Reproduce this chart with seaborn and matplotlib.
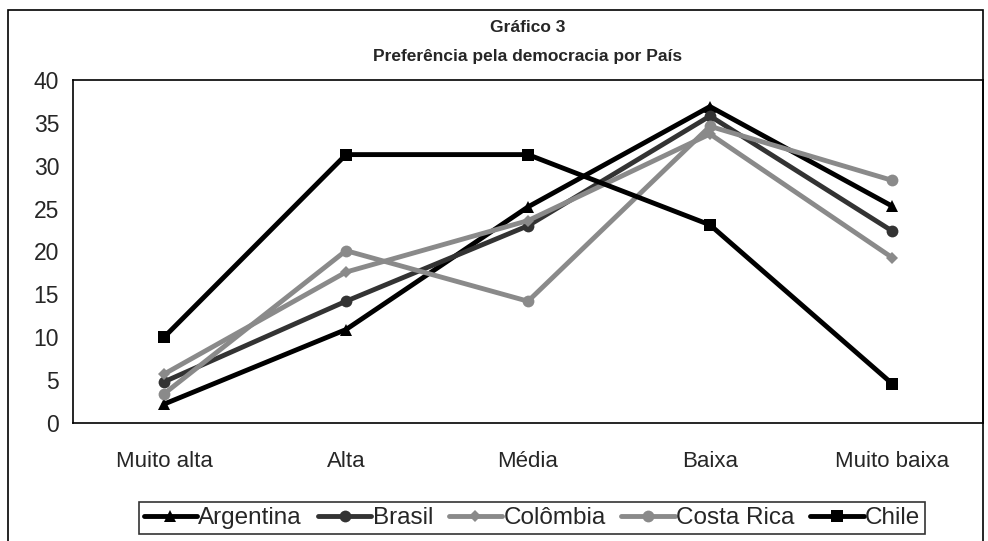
import matplotlib
matplotlib.use("Agg")
import matplotlib.pyplot as plt
from matplotlib.patches import Rectangle
import seaborn as sns
import pandas as pd

categorias = ["Muito alta", "Alta", "Média", "Baixa", "Muito baixa"]
argentina = [2.2, 10.9, 25.2, 36.9, 25.3]
brasil = [4.8, 14.2, 23.0, 35.8, 22.4]
colombia = [5.7, 17.6, 23.6, 33.7, 19.3]
costa_rica = [3.4, 20.1, 14.2, 34.6, 28.3]
chile = [10.0, 31.3, 31.3, 23.1, 4.6]

paises = ["Argentina", "Brasil", "Colômbia", "Costa Rica", "Chile"]
valores = [argentina, brasil, colombia, costa_rica, chile]
cores = ["#000000", "#333333", "#8a8a8a", "#8a8a8a", "#000000"]
marcadores = ["^", "o", "D", "o", "s"]
tamanhos = [8.5, 8.5, 6.5, 8.5, 8.5]

linhas = []
for pais, serie in zip(paises, valores):
    for i, (cat, v) in enumerate(zip(categorias, serie)):
        linhas.append({"pais": pais, "pos": i, "categoria": cat, "valor": v})
df = pd.DataFrame(linhas)

sns.set_style("white")
plt.rcParams["font.family"] = ["Liberation Sans", "DejaVu Sans"]

fig = plt.figure(figsize=(9.88, 5.41), dpi=100)
ax = fig.add_axes([73 / 988, (541 - 423) / 541, (983 - 73) / 988, (423 - 80) / 541])

for pais, cor, mk, ms in zip(paises, cores, marcadores, tamanhos):
    sns.lineplot(
        data=df[df["pais"] == pais], x="pos", y="valor", ax=ax,
        color=cor, marker=mk, markersize=ms, markeredgewidth=0,
        linewidth=3.5, label=pais, sort=False, legend=False,
    )

ax.set_xlim(-0.5, 4.5)
ax.set_ylim(0, 40)
ax.set_yticks(range(0, 41, 5))
ax.set_xticks(range(len(categorias)))
ax.set_xticklabels(categorias)
ax.set_xticks([0.5, 1.5, 2.5, 3.5], minor=True)
ax.tick_params(axis="x", which="major", length=0, pad=20, labelsize=16)
ax.tick_params(axis="x", which="minor", length=6, width=1, direction="out", color="black")
ax.tick_params(axis="y", length=6, width=1, direction="out", color="black", labelsize=16.5, pad=4)
ax.set_xlabel("")
ax.set_ylabel("")
for s in ax.spines.values():
    s.set_color("black")
    s.set_linewidth(1.2)

fig.text(528 / 988, 1 - 27 / 541, "Gráfico 3", ha="center", va="center",
         fontsize=12.5, fontweight="bold")
fig.text(528 / 988, 1 - 57 / 541, "Preferência pela democracia por País",
         ha="center", va="center", fontsize=12.5, fontweight="bold")

fig.patches.append(Rectangle((8 / 988, -0.02), (983 - 8) / 988, 1.02 - 10 / 541,
                             transform=fig.transFigure, fill=False,
                             edgecolor="black", linewidth=1.2))

handles, labels = ax.get_legend_handles_labels()
leg = fig.legend(handles, labels, loc="center", ncol=5,
                 bbox_to_anchor=(532 / 988, 1 - 518 / 541), frameon=True,
                 fontsize=17.5, handlelength=2.2, handletextpad=0.05,
                 columnspacing=0.65, borderpad=0.2, borderaxespad=0,
                 fancybox=False)
leg.get_frame().set_edgecolor("black")
leg.get_frame().set_linewidth(1.2)

fig.savefig("out.png", dpi=100)
